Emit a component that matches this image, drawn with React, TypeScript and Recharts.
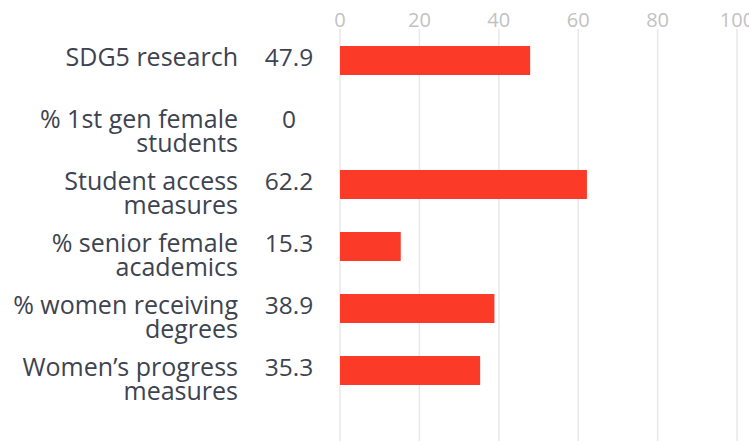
import React from "react";
import { BarChart, Bar, XAxis, YAxis, CartesianGrid } from "recharts";

const categories = [
  "SDG5 research",
  "% 1st gen female\nstudents",
  "Student access\nmeasures",
  "% senior female\nacademics",
  "% women receiving\ndegrees",
  "Women\u2019s progress\nmeasures",
];
const scores = [47.9, 0, 62.2, 15.3, 38.9, 35.3];
const xTicks = [0, 20, 40, 60, 80, 100];

const data = categories.map((name, i) => ({ name, value: scores[i] }));

const FONT = "'Open Sans', 'Noto Sans', sans-serif";

const CategoryTick = (props: any) => {
  const { x, y, payload, index } = props;
  const lines = String(payload.value).split("\n");
  const val = scores[index];
  return (
    <g>
      <text
        x={x - 102}
        y={y + 6}
        textAnchor="end"
        fontFamily={FONT}
        fontSize={25}
        fill="#3e4350"
      >
        {lines.map((l, i) => (
          <tspan key={i} x={x - 102} dy={i === 0 ? 0 : 24}>
            {l}
          </tspan>
        ))}
      </text>
      <text
        x={x - 51}
        y={y + 6}
        textAnchor="middle"
        fontFamily={FONT}
        fontSize={24.5}
        fill="#3e4350"
      >
        {String(val)}
      </text>
    </g>
  );
};

export default function App() {
  return (
    <div style={{ position: "absolute", left: 0, top: 0, background: "#fff" }}>
      <BarChart
        width={749}
        height={441}
        data={data}
        layout="vertical"
        margin={{ top: 0, right: 12, bottom: 0, left: 0 }}
      >
        <CartesianGrid
          horizontal={false}
          vertical={true}
          stroke="#e8e8e8"
          strokeWidth={1.5}
        />
        <XAxis
          type="number"
          orientation="top"
          domain={[0, 100]}
          ticks={xTicks}
          height={29}
          axisLine={false}
          tickLine={false}
          tickSize={0}
          tickMargin={2}
          interval={0}
          tick={{ fill: "#c2c2c2", fontSize: 20, fontFamily: FONT }}
        />
        <YAxis
          type="category"
          dataKey="name"
          width={340}
          axisLine={false}
          tickLine={false}
          tickSize={0}
          tickMargin={0}
          interval={0}
          padding={{ top: 0, bottom: 40 }}
          tick={<CategoryTick />}
        />
        <Bar dataKey="value" fill="#fb3a28" barSize={29} isAnimationActive={false} />
      </BarChart>
    </div>
  );
}
